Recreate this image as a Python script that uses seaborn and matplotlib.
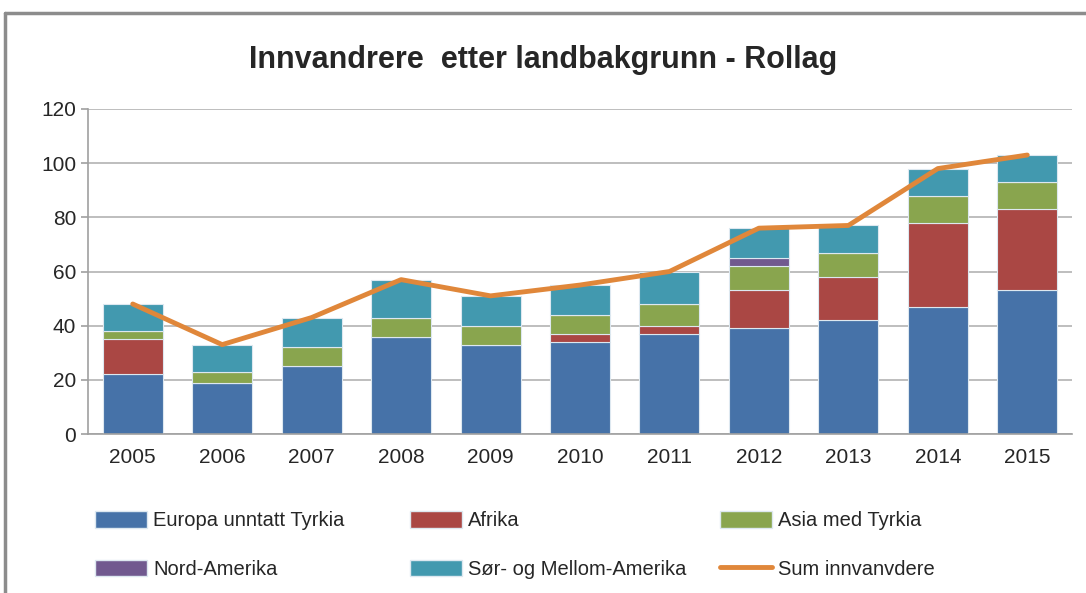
import numpy as np
import pandas as pd
import matplotlib
matplotlib.use("Agg")
import matplotlib.pyplot as plt
import seaborn as sns
from matplotlib.patches import Patch
from matplotlib.lines import Line2D

years = ["2005", "2006", "2007", "2008", "2009", "2010",
         "2011", "2012", "2013", "2014", "2015"]
europa = [22, 19, 25, 36, 33, 34, 37, 39, 42, 47, 53]
afrika = [13, 0, 0, 0, 0, 3, 3, 14, 16, 31, 30]
asia = [3, 4, 7, 7, 7, 7, 8, 9, 9, 10, 10]
nord = [0, 0, 0, 0, 0, 0, 0, 3, 0, 0, 0]
sor = [10, 10, 11, 14, 11, 11, 12, 11, 10, 10, 10]
total = [48, 33, 43, 57, 51, 55, 60, 76, 77, 98, 103]

series = [
    ("Europa unntatt Tyrkia", europa, "#4672A8"),
    ("Afrika", afrika, "#AA4744"),
    ("Asia med Tyrkia", asia, "#89A54E"),
    ("Nord-Amerika", nord, "#71598F"),
    ("Sør- og Mellom-Amerika", sor, "#4299AF"),
]
line_label = "Sum innvanvdere"
line_color = "#E0873A"

sns.set_style("white")
plt.rcParams["font.family"] = ["Liberation Sans", "DejaVu Sans"]

fig = plt.figure(figsize=(10.86, 5.93), dpi=100)
ax = fig.add_axes([88 / 1086, 1 - 434 / 593, (1072 - 88) / 1086, (434 - 109) / 593])

bottom = np.zeros(len(years))
for name, vals, color in series:
    df = pd.DataFrame({"year": years, "value": vals})
    sns.barplot(data=df, x="year", y="value", color=color, bottom=bottom,
                width=0.67, saturation=1, edgecolor="#dde8f0", linewidth=0.8,
                ax=ax, zorder=2)
    bottom = bottom + np.array(vals)

sns.lineplot(x=np.arange(len(years)), y=total, color=line_color,
             linewidth=3.5, ax=ax, zorder=3)

ax.set_ylim(0, 120)
ax.set_xlim(-0.5, len(years) - 0.5)
ax.set_yticks(range(0, 121, 20))
ax.yaxis.grid(True, color="#b3b3b3", linewidth=1.2, zorder=0)
ax.set_axisbelow(True)
ax.set_xlabel("")
ax.set_ylabel("")
for s in ["top", "right"]:
    ax.spines[s].set_visible(False)
for s in ["left", "bottom"]:
    ax.spines[s].set_color("#a0a0a0")
    ax.spines[s].set_linewidth(1.2)
ax.tick_params(axis="x", which="major", length=0, labelsize=15, pad=10)
ax.set_xticks(np.arange(-0.5, len(years), 1), minor=True)
ax.tick_params(axis="x", which="minor", length=6, color="#a0a0a0", width=1.2)
ax.tick_params(axis="y", length=5, color="#a0a0a0", width=1.2, labelsize=15, left=True)

fig.text(0.5, 1 - 60 / 593, "Innvandrere  etter landbakgrunn - Rollag",
         ha="center", va="center", fontsize=22, fontweight="bold")

# legend: three columns placed like the original
patches = [Patch(facecolor=c, edgecolor="#dde8f0", label=n) for n, v, c in series]
line_handle = Line2D([], [], color=line_color, linewidth=3.5, label=line_label)
columns = [
    ([patches[0], patches[3]], 95),
    ([patches[1], patches[4]], 410),
    ([patches[2], line_handle], 720),
]
for col_handles, x_px in columns:
    fig.legend(handles=col_handles, ncol=1, loc="upper left",
               bbox_to_anchor=(x_px / 1086, 1 - 511 / 593),
               frameon=False, fontsize=14.5, handlelength=2.6, borderpad=0,
               borderaxespad=0, handleheight=0.9, handletextpad=0.3,
               labelspacing=1.45)

# outer chart border (top and left)
fig.add_artist(Line2D([5 / 1086, 5 / 1086], [0, 1 - 13 / 593],
                      transform=fig.transFigure, color="#8c8c8c", linewidth=2.5))
fig.add_artist(Line2D([5 / 1086, 1], [1 - 13 / 593, 1 - 13 / 593],
                      transform=fig.transFigure, color="#8c8c8c", linewidth=2.5))

fig.savefig("out.png", dpi=100)
